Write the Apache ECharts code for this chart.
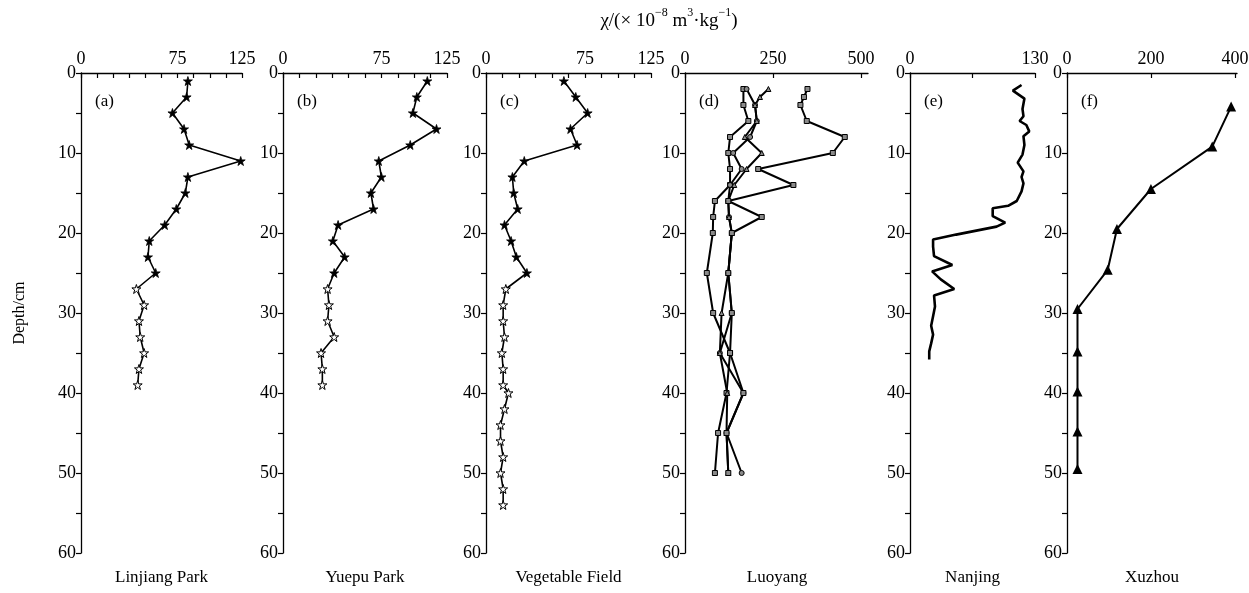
<!DOCTYPE html>
<html>
<head>
<meta charset="utf-8">
<title>Magnetic susceptibility depth profiles</title>
<script src="https://cdn.jsdelivr.net/npm/echarts@6.0.0/dist/echarts.min.js"></script>
<style>
  html, body { margin: 0; padding: 0; background: #fff; }
  #chart { width: 1249px; height: 593px; }
</style>
</head>
<body>
<div id="chart"></div>
<script>
// depth in cm, susceptibility in 1e-8 m3/kg
const linjiangDepth = [1, 3, 5, 7, 9, 11, 13, 15, 17, 19, 21, 23, 25, 27, 29, 31, 33, 35, 37, 39];
const linjiangValue = [83, 82, 71, 80, 84, 124, 83, 81, 74, 65, 53, 52, 58, 43, 49, 45, 46, 49, 45, 44];

const yuepuDepth = [1, 3, 5, 7, 9, 11, 13, 15, 17, 19, 21, 23, 25, 27, 29, 31, 33, 35, 37, 39];
const yuepuValue = [110, 102, 99, 117, 97, 73, 75, 67, 69, 42, 38, 47, 39, 34, 35, 34, 39, 29, 30, 30];

const vegDepth = [1, 3, 5, 7, 9, 11, 13, 15, 17, 19, 21, 23, 25, 27, 29, 31, 33, 35, 37, 39, 40, 42, 44, 46, 48, 50, 52, 54];
const vegValue = [59, 68, 77, 64, 69, 29, 20, 21, 24, 14, 19, 23, 31, 15, 13, 13, 14, 12, 13, 13, 17, 14, 11, 11, 13, 11, 13, 13];

const luoyangDepthA = [2, 4, 6, 8, 10, 12, 14, 16, 18, 20, 25, 30, 35, 40, 45, 50];
const luoyangValueA = [166, 166, 180, 128, 123, 128, 128, 85, 80, 79, 62, 80, 128, 118, 94, 85];
const luoyangDepthB = [2, 4, 6, 8, 10, 12, 14, 16, 18, 20, 25, 30, 35, 40, 45, 50];
const luoyangValueB = [175, 199, 204, 185, 137, 161, 128, 123, 125, 133, 123, 133, 99, 166, 118, 161];
const luoyangDepthC = [2, 3, 4, 6, 8, 10, 12, 14, 16, 18, 20, 25, 30, 35, 40, 45, 50];
const luoyangValueC = [237, 213, 199, 204, 170, 218, 175, 140, 123, 125, 133, 123, 104, 99, 120, 118, 123];
const luoyangDepthD = [2, 3, 4, 6, 8, 10, 12, 14, 16, 18, 20, 25, 30, 35, 40, 45, 50];
const luoyangValueD = [348, 338, 328, 346, 454, 420, 208, 308, 123, 218, 133, 123, 133, 128, 166, 118, 123];

const nanjingDepth = [1.5, 2.2, 3.2, 4.5, 5.4, 6.0, 6.5, 7.3, 7.9, 9.0, 10.2, 11.2, 12.3, 13.0, 13.8, 14.8, 16.0, 16.6, 16.9, 17.9, 18.7, 19.2, 19.7, 20.2, 20.8, 21.7, 22.9, 24.0, 24.8, 25.8, 27.0, 27.8, 29.2, 30.4, 31.6, 32.7, 33.8, 34.8, 35.8];
const nanjingValue = [116, 107, 119, 117, 118, 114, 121, 124, 118, 119, 117, 112, 118, 116, 118, 116, 111, 102, 86, 86, 99, 90, 69, 48, 24, 24, 25, 44, 23, 32, 46, 25, 26, 24, 22, 24, 22, 20, 20];

const xuzhouDepth = [4.2, 9.2, 14.5, 19.5, 24.6, 29.5, 34.8, 39.8, 44.8, 49.5];
const xuzhouValue = [391, 346, 200, 119, 97, 25, 25, 25, 25, 25];

const depthTicks = [0, 5, 10, 15, 20, 25, 30, 35, 40, 45, 50, 55, 60];
const depthLabels = [0, 10, 20, 30, 40, 50, 60];
const parkTicks = [0, 12.5, 25, 37.5, 50, 62.5, 75, 87.5, 100, 112.5, 125];
const parkLabels = [0, 75, 125];

const serif = "'Liberation Serif', 'DejaVu Serif', serif";
const starPath = "path://M50,2 L61,36 L97,36 L68,57 L79,92 L50,71 L21,92 L32,57 L3,36 L39,36 Z";

const panels = [
  { left: 81, width: 161, max: 125, ticks: parkTicks, labels: parkLabels, tag: "(a)", name: "Linjiang Park" },
  { left: 283, width: 164, max: 125, ticks: parkTicks, labels: parkLabels, tag: "(b)", name: "Yuepu Park" },
  { left: 486, width: 165, max: 125, ticks: parkTicks, labels: parkLabels, tag: "(c)", name: "Vegetable Field" },
  { left: 685, width: 183, max: 520, ticks: [0, 250, 500], labels: [0, 250, 500], tag: "(d)", name: "Luoyang" },
  { left: 910, width: 125, max: 130, ticks: [0, 65, 130], labels: [0, 130], tag: "(e)", name: "Nanjing" },
  { left: 1067, width: 170, max: 405, ticks: [0, 200, 400], labels: [0, 200, 400], tag: "(f)", name: "Xuzhou" }
];

const pairs = (depth, value) => depth.map((d, i) => [value[i], d]);

const starSeries = (idx, depth, value) => ({
  type: "line",
  xAxisIndex: idx,
  yAxisIndex: idx,
  symbol: starPath,
  symbolSize: 9,
  lineStyle: { color: "#000", width: 1.6 },
  data: depth.map((d, i) => ({
    value: [value[i], d],
    // hollow stars below 25 cm
    itemStyle: d > 25 ? { color: "#fff", borderColor: "#000", borderWidth: 1 } : { color: "#000", borderColor: "#000", borderWidth: 0.8 }
  })),
  z: 3
});

const luoyangSeries = (depth, value, symbol) => ({
  type: "line",
  xAxisIndex: 3,
  yAxisIndex: 3,
  symbol: symbol,
  symbolSize: 5,
  lineStyle: { color: "#000", width: 2 },
  itemStyle: { color: "#8a8a8a", borderColor: "#000", borderWidth: 1 },
  data: pairs(depth, value)
});

const chart = echarts.init(document.getElementById("chart"), null, { renderer: "canvas" });

const option = {
  animation: false,
  backgroundColor: "#fff",
  grid: panels.map(p => ({ left: p.left, width: p.width, top: 73, height: 480, outerBoundsMode: "none" })),
  xAxis: panels.map((p, i) => ({
    type: "value",
    gridIndex: i,
    position: "top",
    min: 0,
    max: p.max,
    axisLine: { show: true, lineStyle: { color: "#000", width: 1.3 } },
    axisTick: { show: true, inside: true, length: 5, customValues: p.ticks, lineStyle: { color: "#000", width: 1.2 } },
    axisLabel: { customValues: p.labels, color: "#000", fontFamily: serif, fontSize: 18, margin: 5 },
    splitLine: { show: false }
  })),
  yAxis: panels.map((p, i) => ({
    type: "value",
    gridIndex: i,
    inverse: true,
    min: 0,
    max: 60,
    axisLine: { show: true, lineStyle: { color: "#000", width: 1.3 } },
    axisTick: { show: true, inside: false, length: 5, customValues: depthTicks, lineStyle: { color: "#000", width: 1.2 } },
    axisLabel: { customValues: depthLabels, color: "#000", fontFamily: serif, fontSize: 18, margin: 5 },
    splitLine: { show: false }
  })),
  series: [
    starSeries(0, linjiangDepth, linjiangValue),
    starSeries(1, yuepuDepth, yuepuValue),
    starSeries(2, vegDepth, vegValue),
    luoyangSeries(luoyangDepthA, luoyangValueA, "rect"),
    luoyangSeries(luoyangDepthB, luoyangValueB, "circle"),
    luoyangSeries(luoyangDepthC, luoyangValueC, "triangle"),
    luoyangSeries(luoyangDepthD, luoyangValueD, "rect"),
    {
      type: "line",
      xAxisIndex: 4,
      yAxisIndex: 4,
      showSymbol: false,
      lineStyle: { color: "#000", width: 2.6 },
      data: pairs(nanjingDepth, nanjingValue)
    },
    {
      type: "line",
      xAxisIndex: 5,
      yAxisIndex: 5,
      symbol: "triangle",
      symbolSize: 10,
      lineStyle: { color: "#000", width: 2 },
      itemStyle: { color: "#000" },
      data: pairs(xuzhouDepth, xuzhouValue)
    }
  ],
  graphic: [
    {
      type: "text",
      x: 669,
      y: 19,
      style: {
        text: "{t|χ/(× 10}{s|−8}{t| m}{s|3}{t|·kg}{s|−1}{t|)}",
        align: "center",
        verticalAlign: "middle",
        rich: {
          t: { fontFamily: serif, fontSize: 19, fill: "#000", lineHeight: 24, verticalAlign: "bottom" },
          s: { fontFamily: serif, fontSize: 12, fill: "#000", lineHeight: 24, verticalAlign: "top" }
        }
      }
    },
    {
      type: "text",
      x: 20,
      y: 313,
      rotation: Math.PI / 2,
      style: { text: "Depth/cm", font: "16px " + serif, fill: "#000", align: "center", verticalAlign: "middle" }
    },
    ...panels.map(p => ({
      type: "text",
      x: p.left + 14,
      y: 102,
      style: { text: p.tag, font: "17px " + serif, fill: "#000", align: "left", verticalAlign: "middle" }
    })),
    ...panels.map((p, i) => ({
      type: "text",
      x: p.left + (i === 3 ? 92 : p.width / 2),
      y: 578,
      style: { text: p.name, font: "17px " + serif, fill: "#000", align: "center", verticalAlign: "middle" }
    }))
  ]
};

chart.setOption(option);
</script>
</body>
</html>
